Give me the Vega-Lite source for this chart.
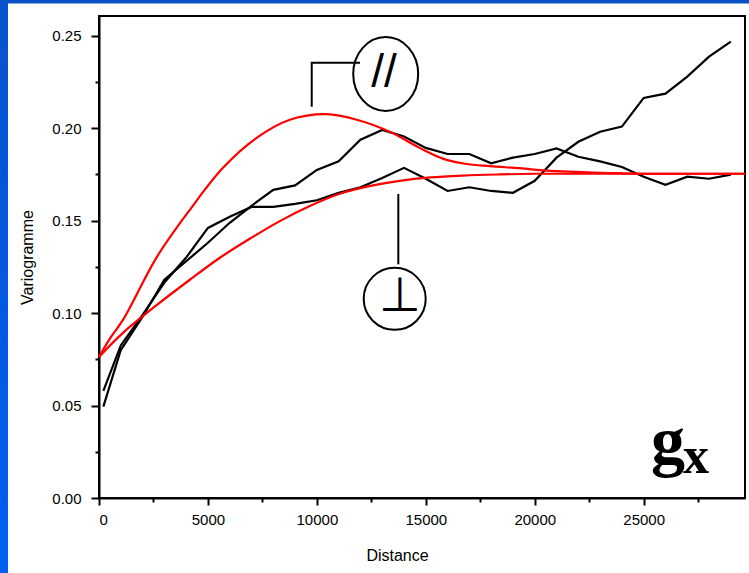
{
  "$schema": "https://vega.github.io/schema/vega-lite/v6.json",
  "width": 646,
  "height": 482,
  "autosize": {"type": "none"},
  "padding": {"left": 99, "top": 16, "right": 4, "bottom": 75},
  "background": "white",
  "config": {
    "view": {"stroke": "black", "strokeWidth": 2},
    "axis": {
      "grid": false,
      "domainColor": "black",
      "domainWidth": 2,
      "ticks": true,
      "tickColor": "black",
      "tickWidth": 2,
      "labelColor": "black",
      "labelFont": "Liberation Sans",
      "labelFontSize": 15,
      "titleColor": "black",
      "titleFont": "Liberation Sans",
      "titleFontSize": 16,
      "titleFontWeight": "normal"
    }
  },
  "datasets": {
    "exp": [
      {"series": "A", "d": 200, "g": 0.0494},
      {"series": "A", "d": 1000, "g": 0.0800},
      {"series": "A", "d": 2000, "g": 0.0980},
      {"series": "A", "d": 3000, "g": 0.1180},
      {"series": "A", "d": 4000, "g": 0.1280},
      {"series": "A", "d": 5000, "g": 0.1380},
      {"series": "A", "d": 6000, "g": 0.1488},
      {"series": "A", "d": 7000, "g": 0.1580},
      {"series": "A", "d": 8000, "g": 0.1666},
      {"series": "A", "d": 9000, "g": 0.1690},
      {"series": "A", "d": 10000, "g": 0.1774},
      {"series": "A", "d": 11000, "g": 0.1820},
      {"series": "A", "d": 12000, "g": 0.1937},
      {"series": "A", "d": 13000, "g": 0.1990},
      {"series": "A", "d": 14000, "g": 0.1955},
      {"series": "A", "d": 15000, "g": 0.1893},
      {"series": "A", "d": 16000, "g": 0.1860},
      {"series": "A", "d": 17000, "g": 0.1860},
      {"series": "A", "d": 18000, "g": 0.1810},
      {"series": "A", "d": 19000, "g": 0.1840},
      {"series": "A", "d": 20000, "g": 0.1860},
      {"series": "A", "d": 21000, "g": 0.1890},
      {"series": "A", "d": 22000, "g": 0.1845},
      {"series": "A", "d": 23000, "g": 0.1820},
      {"series": "A", "d": 24000, "g": 0.1790},
      {"series": "A", "d": 25000, "g": 0.1737},
      {"series": "A", "d": 26000, "g": 0.1693},
      {"series": "A", "d": 27000, "g": 0.1737},
      {"series": "A", "d": 28000, "g": 0.1726},
      {"series": "A", "d": 29000, "g": 0.1748},
      {"series": "B", "d": 200, "g": 0.0579},
      {"series": "B", "d": 1000, "g": 0.0825},
      {"series": "B", "d": 2000, "g": 0.0990},
      {"series": "B", "d": 3000, "g": 0.1165},
      {"series": "B", "d": 4000, "g": 0.1300},
      {"series": "B", "d": 5000, "g": 0.1460},
      {"series": "B", "d": 6000, "g": 0.1520},
      {"series": "B", "d": 7000, "g": 0.1574},
      {"series": "B", "d": 8000, "g": 0.1574},
      {"series": "B", "d": 9000, "g": 0.1590},
      {"series": "B", "d": 10000, "g": 0.1610},
      {"series": "B", "d": 11000, "g": 0.1650},
      {"series": "B", "d": 12000, "g": 0.1680},
      {"series": "B", "d": 13000, "g": 0.1730},
      {"series": "B", "d": 14000, "g": 0.1785},
      {"series": "B", "d": 15000, "g": 0.1726},
      {"series": "B", "d": 16000, "g": 0.1660},
      {"series": "B", "d": 17000, "g": 0.1680},
      {"series": "B", "d": 18000, "g": 0.1660},
      {"series": "B", "d": 19000, "g": 0.1650},
      {"series": "B", "d": 20000, "g": 0.1715},
      {"series": "B", "d": 21000, "g": 0.1840},
      {"series": "B", "d": 22000, "g": 0.1926},
      {"series": "B", "d": 23000, "g": 0.1980},
      {"series": "B", "d": 24000, "g": 0.2008},
      {"series": "B", "d": 25000, "g": 0.2163},
      {"series": "B", "d": 26000, "g": 0.2186},
      {"series": "B", "d": 27000, "g": 0.2278},
      {"series": "B", "d": 28000, "g": 0.2386},
      {"series": "B", "d": 29000, "g": 0.2467}
    ],
    "model": [
      {"model": "par", "d": 0, "g": 0.0763},
      {"model": "par", "d": 500, "g": 0.0862},
      {"model": "par", "d": 1100, "g": 0.0963},
      {"model": "par", "d": 2660, "g": 0.1304},
      {"model": "par", "d": 4170, "g": 0.1558},
      {"model": "par", "d": 5690, "g": 0.1785},
      {"model": "par", "d": 7250, "g": 0.1948},
      {"model": "par", "d": 8760, "g": 0.2045},
      {"model": "par", "d": 10460, "g": 0.2075},
      {"model": "par", "d": 11830, "g": 0.2045},
      {"model": "par", "d": 13350, "g": 0.1980},
      {"model": "par", "d": 14720, "g": 0.1893},
      {"model": "par", "d": 15780, "g": 0.1835},
      {"model": "par", "d": 16800, "g": 0.1807},
      {"model": "par", "d": 17940, "g": 0.1794},
      {"model": "par", "d": 19310, "g": 0.1783},
      {"model": "par", "d": 20550, "g": 0.1770},
      {"model": "par", "d": 21930, "g": 0.1763},
      {"model": "par", "d": 23440, "g": 0.1757},
      {"model": "par", "d": 24800, "g": 0.1753},
      {"model": "par", "d": 27000, "g": 0.1753},
      {"model": "par", "d": 29650, "g": 0.1753},
      {"model": "perp", "d": 0, "g": 0.0763},
      {"model": "perp", "d": 1100, "g": 0.0893},
      {"model": "perp", "d": 2660, "g": 0.1044},
      {"model": "perp", "d": 4170, "g": 0.1180},
      {"model": "perp", "d": 5500, "g": 0.1295},
      {"model": "perp", "d": 6900, "g": 0.1400},
      {"model": "perp", "d": 8300, "g": 0.1497},
      {"model": "perp", "d": 9700, "g": 0.1580},
      {"model": "perp", "d": 11050, "g": 0.1645},
      {"model": "perp", "d": 12570, "g": 0.1690},
      {"model": "perp", "d": 13800, "g": 0.1715},
      {"model": "perp", "d": 15200, "g": 0.1733},
      {"model": "perp", "d": 16700, "g": 0.1743},
      {"model": "perp", "d": 18300, "g": 0.1749},
      {"model": "perp", "d": 20000, "g": 0.1753},
      {"model": "perp", "d": 24000, "g": 0.1753},
      {"model": "perp", "d": 29650, "g": 0.1753}
    ],
    "conn": [
      {"id": "par", "o": 1, "d": 9763, "g": 0.21156},
      {"id": "par", "o": 2, "d": 9763, "g": 0.23535},
      {"id": "par", "o": 3, "d": 11980, "g": 0.23535},
      {"id": "perp", "o": 1, "d": 13738, "g": 0.16436},
      {"id": "perp", "o": 2, "d": 13738, "g": 0.12635}
    ],
    "rings": [
      {"r": "par", "d": 13159, "g": 0.22924},
      {"r": "perp", "d": 13572, "g": 0.1077}
    ],
    "notes": [
      {"t": "//", "d": 13082, "g": 0.2220},
      {"t": "⊥", "d": 13816, "g": 0.10137},
      {"t": "g", "d": 26117, "g": 0.01838},
      {"t": "x", "d": 27402, "g": 0.013353}
    ],
    "one": [{"k": 1}]
  },
  "layer": [
    {
      "data": {"name": "one"},
      "mark": {"type": "rect", "clip": false, "fill": {"gradient": "linear", "x1": 0, "y1": 0, "x2": 0, "y2": 1, "stops": [{"offset": 0, "color": "#0A4CBE"}, {"offset": 1, "color": "#0064FF"}]}},
      "encoding": {
        "x": {"datum": -6000, "type": "quantitative"},
        "x2": {"datum": -4177},
        "y": {"datum": -0.14, "type": "quantitative"},
        "y2": {"datum": 0.40}
      }
    },
    {
      "data": {"name": "one"},
      "mark": {"type": "rect", "clip": false, "fill": "#0A50C6"},
      "encoding": {
        "x": {"datum": -6000, "type": "quantitative"},
        "x2": {"datum": 33000},
        "y": {"datum": 0.26736, "type": "quantitative"},
        "y2": {"datum": 0.40}
      }
    },
    {
      "encoding": {
        "x": {
          "field": "d",
          "type": "quantitative",
          "scale": {"domain": [0, 29650], "nice": false, "zero": false},
          "axis": {
            "title": "Distance",
            "values": [0, 2500, 5000, 7500, 10000, 12500, 15000, 17500, 20000, 22500, 25000, 27500],
            "format": "d",
            "labelExpr": "datum.value % 5000 === 0 ? datum.label : ''",
            "tickSize": 7,
            "tickDash": {"condition": {"test": "datum.value % 5000 === 0", "value": [7, 0]}, "value": [4, 30]},
            "labelPadding": 7,
            "titlePadding": 20,
            "titleX": 298
          }
        },
        "y": {
          "field": "g",
          "type": "quantitative",
          "scale": {"domain": [0, 0.2606], "nice": false, "zero": false},
          "axis": {
            "title": "Variogramme",
            "values": [0, 0.025, 0.05, 0.075, 0.1, 0.125, 0.15, 0.175, 0.2, 0.225, 0.25],
            "format": ".2f",
            "labelExpr": "abs(datum.value * 20 - round(datum.value * 20)) < 0.000001 ? datum.label : ''",
            "tickSize": 8,
            "tickDash": {"condition": {"test": "abs(datum.value * 20 - round(datum.value * 20)) < 0.000001", "value": [8, 0]}, "value": [4, 30]},
            "labelPadding": 10,
            "titlePadding": 16
          }
        }
      },
      "layer": [
        {
          "data": {"name": "exp"},
          "mark": {"type": "line", "color": "black", "strokeWidth": 2.2},
          "encoding": {"detail": {"field": "series"}}
        },
        {
          "data": {"name": "model"},
          "mark": {"type": "line", "color": "#FF0000", "strokeWidth": 2.2, "interpolate": "catmull-rom"},
          "encoding": {"detail": {"field": "model"}}
        },
        {
          "data": {"name": "conn"},
          "mark": {"type": "line", "color": "black", "strokeWidth": 2},
          "encoding": {"detail": {"field": "id"}, "order": {"field": "o"}}
        },
        {
          "data": {"name": "rings"},
          "transform": [{"filter": "datum.r === 'par'"}],
          "mark": {"type": "point", "shape": "M -0.878 0 A 0.878 1 0 1 1 0.878 0 A 0.878 1 0 1 1 -0.878 0 Z", "size": 5476, "filled": false, "color": "black", "strokeWidth": 2, "opacity": 1}
        },
        {
          "data": {"name": "rings"},
          "transform": [{"filter": "datum.r === 'perp'"}],
          "mark": {"type": "point", "shape": "circle", "size": 3848, "filled": false, "color": "black", "strokeWidth": 2, "opacity": 1}
        },
        {
          "data": {"name": "notes"},
          "transform": [{"filter": "datum.t === '//'"}],
          "mark": {"type": "text", "font": "Liberation Sans", "fontSize": 46, "align": "center", "baseline": "alphabetic", "color": "black"},
          "encoding": {"text": {"field": "t"}}
        },
        {
          "data": {"name": "notes"},
          "transform": [{"filter": "datum.t === '⊥'"}],
          "mark": {"type": "text", "font": "DejaVu Sans", "fontSize": 48, "align": "center", "baseline": "alphabetic", "color": "black"},
          "encoding": {"text": {"field": "t"}}
        },
        {
          "data": {"name": "notes"},
          "transform": [{"filter": "datum.t === 'g'"}],
          "mark": {"type": "text", "font": "Liberation Serif", "fontWeight": "bold", "fontSize": 68, "align": "center", "baseline": "alphabetic", "color": "black"},
          "encoding": {"text": {"field": "t"}}
        },
        {
          "data": {"name": "notes"},
          "transform": [{"filter": "datum.t === 'x'"}],
          "mark": {"type": "text", "font": "Liberation Serif", "fontWeight": "bold", "fontSize": 52, "align": "center", "baseline": "alphabetic", "color": "black"},
          "encoding": {"text": {"field": "t"}}
        }
      ]
    }
  ]
}
